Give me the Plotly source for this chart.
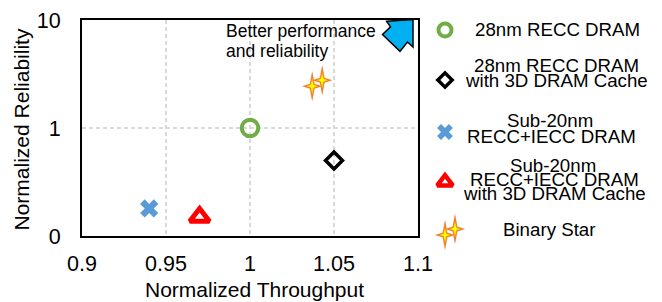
import base64
import math
import plotly.graph_objects as go

# ---------------- data ----------------
series_names = [
    "28nm RECC DRAM",
    "28nm RECC DRAM with 3D DRAM Cache",
    "Sub-20nm RECC+IECC DRAM",
    "Sub-20nm RECC+IECC DRAM with 3D DRAM Cache",
    "Binary Star",
]
throughput = [1.0, 1.05, 0.94, 0.97, 1.04]
reliability = [1.0, 0.5, 0.18, 0.15, 2.6]

x_ticks = [0.9, 0.95, 1.0, 1.05, 1.1]
x_tick_labels = ["0.9", "0.95", "1", "1.05", "1.1"]
y_ticks = [0.1, 1, 10]
y_tick_labels = ["0", "1", "10"]

legend_lines = [
    ["28nm RECC DRAM"],
    ["28nm RECC DRAM", "with 3D DRAM Cache"],
    ["Sub-20nm", "RECC+IECC DRAM"],
    ["Sub-20nm", "RECC+IECC DRAM", "with 3D DRAM Cache"],
    ["Binary Star"],
]
note_lines = ["Better performance", "and reliability"]
x_title = "Normalized Throughput"
y_title = "Normalized Reliability"

# ---------------- layout helpers ----------------
W, H = 662, 302
PL, PR, PT, PB = 82, 418, 20, 236  # plot area in pixels


def px(x):
    return x / W


def py(y):
    return 1 - y / H


FONT = "Liberation Sans, Arial, sans-serif"

marker_styles = [
    dict(symbol="circle-open", size=16.5, color="#70AD47", line=dict(width=4, color="#70AD47")),
    dict(symbol="diamond-open", size=13, color="#000000", line=dict(width=3.5, color="#000000")),
    dict(symbol="x", size=16, color="#5B9BD5", line=dict(width=0)),
    dict(symbol="triangle-up-open", size=17, color="#FF0000", line=dict(width=5, color="#FF0000")),
]
legend_marker_styles = [
    dict(symbol="circle-open", size=13, color="#70AD47", line=dict(width=4, color="#70AD47")),
    dict(symbol="diamond-open", size=11, color="#000000", line=dict(width=3.5, color="#000000")),
    dict(symbol="x", size=14, color="#5B9BD5", line=dict(width=0)),
    dict(symbol="triangle-up-open", size=13.5, color="#FF0000", line=dict(width=4.5, color="#FF0000")),
]


# binary-star glyph as svg
def star_path(cx, cy, hx, hy, w):
    pts = [(cx, cy - hy), (cx + w, cy - w), (cx + hx, cy), (cx + w, cy + w),
           (cx, cy + hy), (cx - w, cy + w), (cx - hx, cy), (cx - w, cy - w)]
    return "M" + " L".join(f"{a:.2f},{b:.2f}" for a, b in pts) + " Z"


def one_star(cx, cy):
    return (
        f'<path d="{star_path(cx, cy, 10.5, 15.5, 2.6)}" fill="#F4A460" opacity="0.7"/>'
        f'<path d="{star_path(cx, cy, 9.5, 14.5, 2.2)}" fill="#ED7D31"/>'
        f'<path d="{star_path(cx, cy, 6, 8.5, 1.6)}" fill="#FFC000"/>'
        f'<path d="{star_path(cx, cy, 4, 5.5, 1.1)}" fill="#FFFF00"/>'
    )


SW, SH = 36, 37
svg = (
    f'<svg xmlns="http://www.w3.org/2000/svg" width="{SW}" height="{SH}" viewBox="0 0 {SW} {SH}">'
    + one_star(13, 21.5) + one_star(23, 15.5) + "</svg>"
)
star_src = "data:image/svg+xml;base64," + base64.b64encode(svg.encode()).decode()

fig = go.Figure()

for i in range(4):
    fig.add_trace(go.Scatter(
        x=[throughput[i]], y=[reliability[i]], mode="markers", name=series_names[i],
        marker=marker_styles[i], xaxis="x", yaxis="y", showlegend=False,
    ))
# Binary Star: invisible hover point, glyph drawn as image at the same data position
fig.add_trace(go.Scatter(
    x=[throughput[4]], y=[reliability[4]], mode="markers", name=series_names[4],
    marker=dict(size=20, opacity=0), xaxis="x", yaxis="y", showlegend=False,
))

x_span = x_ticks[-1] - x_ticks[0]
px_per_x = (PR - PL) / x_span
px_per_decade = (PB - PT) / (math.log10(y_ticks[-1]) - math.log10(y_ticks[0]))

images = [
    dict(source=star_src, xref="x", yref="y", x=throughput[4], y=math.log10(reliability[4]),
         sizex=SW / px_per_x, sizey=SH / px_per_decade, xanchor="center", yanchor="middle",
         sizing="stretch", layer="above"),
]

# ---------------- custom legend ----------------
sym_x = 445
entry_sym_y = [30, 80, 132, 182, 232]
for i in range(4):
    fig.add_trace(go.Scatter(
        x=[sym_x], y=[entry_sym_y[i]], mode="markers", marker=legend_marker_styles[i],
        xaxis="x2", yaxis="y2", showlegend=False, hoverinfo="skip",
    ))
images.append(dict(source=star_src, xref="paper", yref="paper", x=px(450), y=py(232),
                   sizex=SW / W, sizey=SH / H, xanchor="center", yanchor="middle",
                   sizing="stretch", layer="above"))

annotations = []
line_pos = [
    [(557, 29)],
    [(556, 65), (556, 80.6)],
    [(550, 121), (551, 136)],
    [(553, 165), (554, 179.5), (554, 194)],
    [(548.5, 229.5)],
]
for lines, poss in zip(legend_lines, line_pos):
    for t, (lx, ly) in zip(lines, poss):
        annotations.append(dict(text=t, x=px(lx), y=py(ly), xref="paper", yref="paper",
                                xanchor="center", yanchor="middle", showarrow=False,
                                font=dict(size=18.7, family=FONT, color="black")))

for t, ly in zip(note_lines, [31, 50.5]):
    annotations.append(dict(text=t, x=px(224), y=py(ly), xref="paper", yref="paper",
                            xanchor="left", yanchor="middle", showarrow=False,
                            font=dict(size=17.5, family=FONT, color="black")))

annotations.append(dict(text=x_title, x=px(254), y=py(289.5), xref="paper", yref="paper",
                        xanchor="center", yanchor="middle", showarrow=False,
                        font=dict(size=21, family=FONT, color="black")))
annotations.append(dict(text=y_title, x=px(20.5), y=py(130), xref="paper", yref="paper",
                        xanchor="center", yanchor="middle", showarrow=False, textangle=-90,
                        font=dict(size=21, family=FONT, color="black")))

arrow = dict(
    type="path", xref="x2", yref="y2", layer="above",
    path="M386.7,21.3 L413,19.5 L413,47 L407.5,42 L400,51.3 L382.5,34.5 L390.5,26.8 Z",
    fillcolor="#00B0F0", line=dict(color="black", width=1.5),
)

fig.update_layout(
    width=W, height=H, margin=dict(l=0, r=0, t=0, b=0, pad=0, autoexpand=False),
    paper_bgcolor="white", plot_bgcolor="rgba(0,0,0,0)", showlegend=False,
    font=dict(family=FONT, color="black"),
    xaxis=dict(domain=[px(PL), px(PR)], range=[x_ticks[0], x_ticks[-1]], tickvals=x_ticks,
               ticktext=x_tick_labels, showgrid=True, gridcolor="#D9D9D9", griddash="4px,3px",
               gridwidth=1.5, showline=True, mirror=True, linecolor="black", linewidth=2,
               zeroline=False, ticks="", tickfont=dict(size=21.5, family=FONT),
               ticklabelstandoff=7, anchor="y", automargin=False),
    yaxis=dict(domain=[py(PB), py(PT)], type="log",
               range=[math.log10(y_ticks[0]), math.log10(y_ticks[-1])], tickvals=y_ticks,
               ticktext=y_tick_labels, showgrid=True, gridcolor="#D9D9D9", griddash="4px,3px",
               gridwidth=1.5, showline=True, mirror=True, linecolor="black", linewidth=2,
               zeroline=False, ticks="", tickfont=dict(size=21.5, family=FONT),
               ticklabelstandoff=15, anchor="x", automargin=False),
    xaxis2=dict(domain=[0, 1], range=[0, W], visible=False, anchor="y2", fixedrange=True,
                automargin=False),
    yaxis2=dict(domain=[0, 1], range=[H, 0], visible=False, anchor="x2", fixedrange=True,
                automargin=False),
    annotations=annotations,
    shapes=[arrow],
    images=images,
)

fig.write_html(
    "out.html",
    config={"displayModeBar": False},
    post_script="document.body.style.margin='0';document.body.style.padding='0';"
                "document.documentElement.style.overflow='hidden';",
)
